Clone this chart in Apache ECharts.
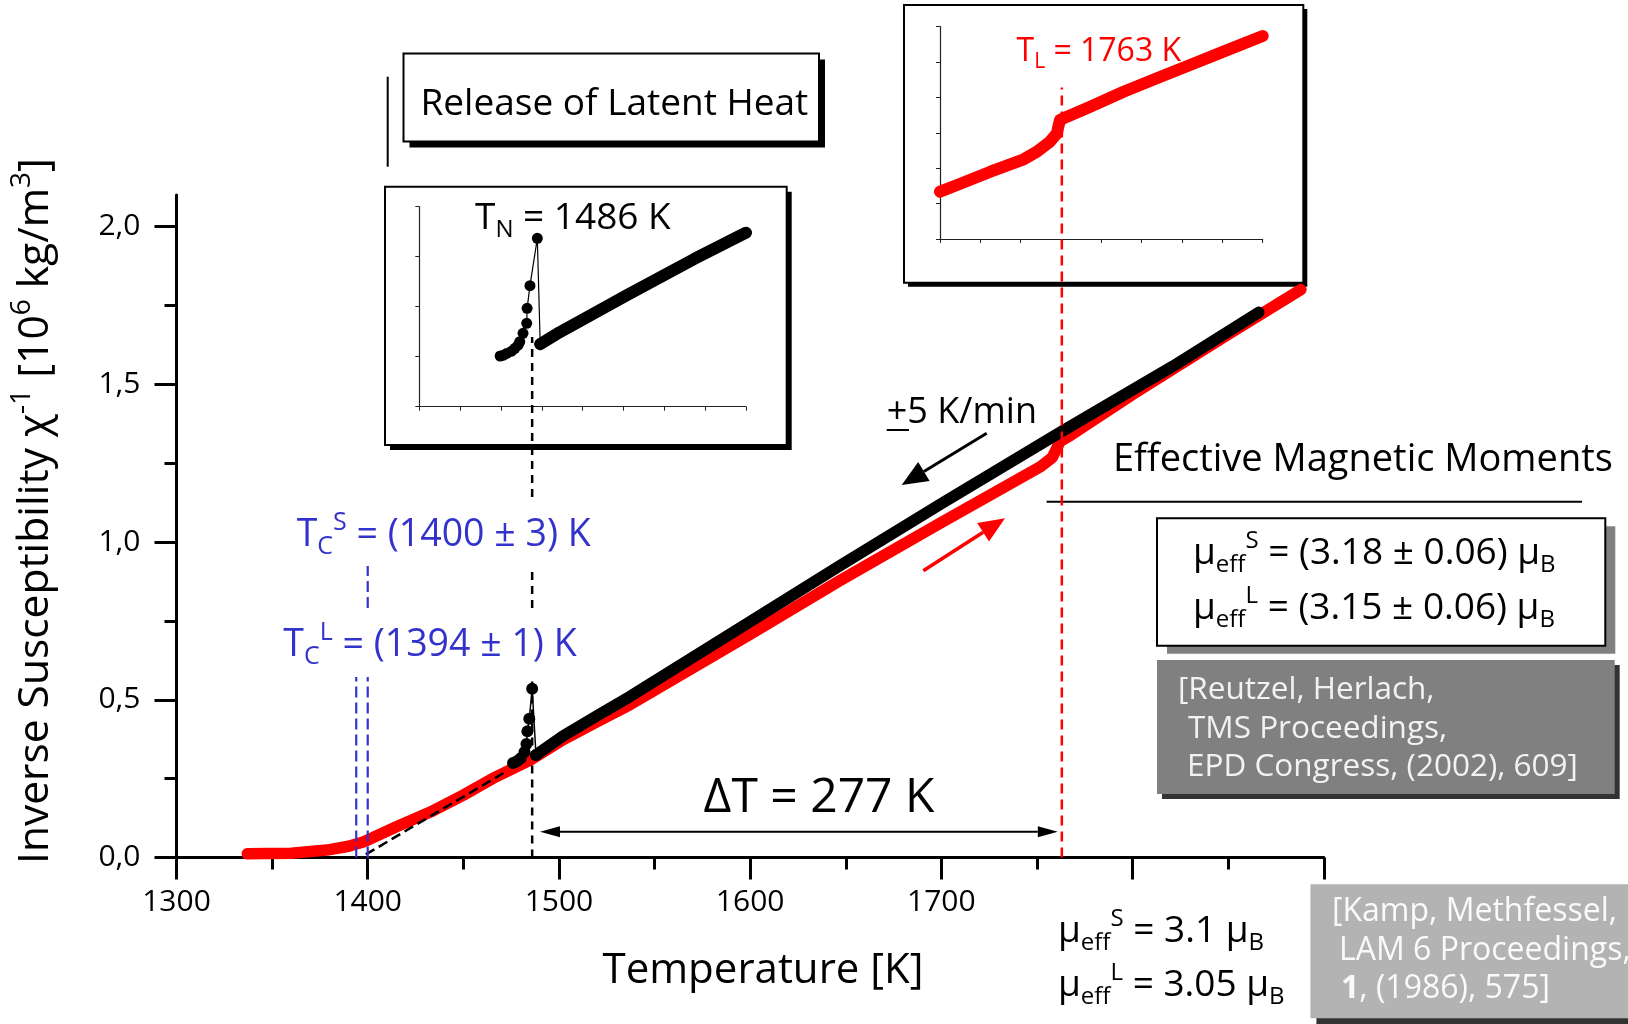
<!DOCTYPE html>
<html>
<head>
<meta charset="utf-8">
<script src="https://cdn.jsdelivr.net/npm/echarts@6/dist/echarts.min.js"></script>
<style>
html,body{margin:0;padding:0;background:#fff;}
#chart{width:1628px;height:1024px;}
</style>
</head>
<body>
<div id="chart"></div>
<script>
// ---------------- DATA ----------------
// Main plot: temperature [K] vs inverse susceptibility [10^6 kg/m^3]
const heatingRed = [
  [1337,0.012],[1360,0.014],[1380,0.025],[1390,0.036],[1398,0.050],[1415,0.098],
  [1433,0.145],[1450,0.198],[1467,0.256],[1485,0.309],[1502,0.373],[1520,0.431],
  [1537,0.484],[1600,0.708],[1647,0.878],[1700,1.062],[1752,1.239],[1758,1.268],
  [1762,1.318],[1768,1.340],[1800,1.468],[1850,1.658],[1888,1.800]
];
const coolingBlack = [
  [1488,0.325],[1502,0.385],[1520,0.450],[1537,0.510],[1600,0.748],[1647,0.925],
  [1700,1.122],[1762,1.347],[1821,1.557],[1866,1.728]
];
// cooling data points around the recalescence peak (path order)
const coolingPeak = [
  [1476,0.300],[1478,0.305],[1480,0.315],[1482,0.335],[1483,0.360],[1483.5,0.400],
  [1484.5,0.440],[1486,0.535],[1488,0.325]
];
// dashed extrapolation of the cooling curve
const curieWeissFit = [[1399,0.010],[1471,0.268]];

// Characteristic temperatures
const T_N = 1486, T_L = 1763, T_C_S = 1400, T_C_L = 1394;

// Inset "T_N" (arbitrary inset units)
const insetN_peak = [
  [1449,0.507],[1453,0.515],[1457,0.533],[1463,0.555],[1467,0.584],[1471,0.615],
  [1473,0.650],[1477,0.734],[1481.5,0.834],[1482,0.984],[1485.5,1.210],[1494.5,1.684],[1498,0.630]
];
const insetN_line = [[1498,0.625],[1522,0.745],[1604,1.115],[1686,1.475],[1750,1.740]];

// Inset "T_L" (arbitrary inset units)
const insetL_red = [
  [1640,1.337],[1657,1.526],[1690,1.902],[1723,2.253],[1736,2.467],[1749,2.750],
  [1756,2.988],[1757,3.137],[1759,3.363],[1766,3.457],[1789,3.739],[1822,4.163],
  [1855,4.542],[1888,4.918],[1921,5.294],[1960,5.738]
];

// Tick labels
const xTickLabels = [1300,1400,1500,1600,1700];
const yTickValues = [0,0.5,1.0,1.5,2.0];
const yMinorTickValues = [0.25,0.75,1.25,1.75];

// ---------------- CHART ----------------
const F = "'Open Sans', 'Noto Sans', sans-serif";
const chart = echarts.init(document.getElementById('chart'), null, {renderer:'canvas'});

function rich(size, color){
  const s = Math.round(size*0.66);
  const lh = Math.round(size*1.3);
  return {
    n:{fontSize:size,fontFamily:F,fill:color,color:color,lineHeight:lh},
    b:{fontSize:size,fontFamily:F,fill:color,color:color,lineHeight:lh,fontWeight:'bold'},
    sub:{fontSize:s,fontFamily:F,fill:color,color:color,lineHeight:s,verticalAlign:'bottom'},
    sup:{fontSize:s,fontFamily:F,fill:color,color:color,lineHeight:s,verticalAlign:'top'}
  };
}
function T(x,y,text,size,color,align,extra){
  return Object.assign({
    type:'text', x:x, y:y, z:100, silent:true,
    style:{text:text, rich:rich(size,color), fontSize:size, fontFamily:F, fill:color,
           align:align||'left', verticalAlign:'middle'}
  }, extra||{});
}
function arrow(x1,y1,x2,y2,color,w,hl,hw,both){
  const dx=x2-x1, dy=y2-y1, L=Math.hypot(dx,dy), ux=dx/L, uy=dy/L, px=-uy, py=ux;
  const els=[];
  const bx=x2-ux*hl, by=y2-uy*hl;
  let sx=x1, sy=y1;
  if(both){
    sx=x1+ux*hl; sy=y1+uy*hl;
    els.push({type:'polygon',z:50,silent:true,shape:{points:[[x1,y1],[sx+px*hw,sy+py*hw],[sx-px*hw,sy-py*hw]]},style:{fill:color}});
  }
  els.push({type:'line',z:50,silent:true,shape:{x1:sx,y1:sy,x2:bx,y2:by},style:{stroke:color,lineWidth:w}});
  els.push({type:'polygon',z:50,silent:true,shape:{points:[[x2,y2],[bx+px*hw,by+py*hw],[bx-px*hw,by-py*hw]]},style:{fill:color}});
  return els;
}
function rect(x,y,w,h,fill,stroke,z){
  return {type:'rect',z:z,silent:true,shape:{x:x,y:y,width:w,height:h},
          style:{fill:fill,stroke:stroke||null,lineWidth:stroke?2:0}};
}

const insetAxisLine = {onZero:false, lineStyle:{color:'#222',width:1.2}};
const insetTick = {show:true, length:4, lineStyle:{color:'#222',width:1}};

const graphics = [
  // Release of Latent Heat box
  rect(409.5,59.5,415.5,88,'#000',null,-2),
  rect(403.5,53.5,415.5,88,'#fff','#000',-1),
  {type:'line',z:-1,silent:true,shape:{x1:387.7,y1:76.7,x2:387.7,y2:166.7},style:{stroke:'#000',lineWidth:2}},
  // inset T_N box
  rect(390,191.7,401.7,258.3,'#000',null,-2),
  rect(385,186.7,401.7,258.3,'#fff','#000',-1),
  // inset T_L box
  rect(908,9,399.3,277.7,'#000',null,-2),
  rect(904,5,399.3,277.7,'#fff','#000',-1),
  // rule under "Effective Magnetic Moments"
  {type:'line',z:-1,silent:true,shape:{x1:1046.6,y1:501.7,x2:1582,y2:501.7},style:{stroke:'#000',lineWidth:2}},
  // mu box
  rect(1167,526.3,448.3,127.4,'#808080',null,-2),
  rect(1157,518.3,448.3,127.4,'#fff','#000',-1),
  // reference box 1
  rect(1162,665,457.7,134,'#333',null,-2),
  rect(1157,660,457.7,134,'#808080',null,-1),
  // reference box 2
  rect(1316.4,890.3,400,134,'#333',null,-2),
  rect(1310.4,884.3,400,134,'#b3b3b3',null,-1),
  // underline of "+" (±)
  {type:'line',z:100,silent:true,shape:{x1:886.7,y1:430,x2:909,y2:430},style:{stroke:'#000',lineWidth:2}},

  // texts
  T(420.5,104,'{n|Release of Latent Heat}',37,'#000'),
  T(475,218,'{n|T}{sub|N}{n| = 1486 K}',37,'#000'),
  T(1016.5,52,'{n|T}{sub|L}{n| = 1763 K}',32,'#ff0000'),
  T(296.7,535,'{n|T}{sub|C}{sup|S}{n| = (1400 ± 3) K}',37.5,'#3333cc'),
  T(283.3,645,'{n|T}{sub|C}{sup|L}{n| = (1394 ± 1) K}',37.5,'#3333cc'),
  T(886.7,413,'{n|+5 K/min}',36,'#000'),
  T(1113,460,'{n|Effective Magnetic Moments}',38,'#000'),
  T(1193,553,'{n|μ}{sub|eff}{sup|S}{n| = (3.18 ± 0.06) μ}{sub|B}',37,'#000'),
  T(1193,608,'{n|μ}{sub|eff}{sup|L}{n| = (3.15 ± 0.06) μ}{sub|B}',37,'#000'),
  T(1178,690,'{n|[Reutzel, Herlach,}',31.5,'#f2f2f2'),
  T(1188,729,'{n|TMS Proceedings,}',31.5,'#f2f2f2'),
  T(1187,767,'{n|EPD Congress, (2002), 609]}',31.5,'#f2f2f2'),
  T(1332,912,'{n|[Kamp, Methfessel,}',32,'#fafafa'),
  T(1339,951,'{n|LAM 6 Proceedings,}',32,'#fafafa'),
  T(1341,989,'{b|1}{n|, (1986), 575]}',32,'#fafafa'),
  T(1058,931,'{n|μ}{sub|eff}{sup|S}{n| = 3.1 μ}{sub|B}',37,'#000'),
  T(1058,985,'{n|μ}{sub|eff}{sup|L}{n| = 3.05 μ}{sub|B}',37,'#000'),
  T(819,798,'{n|ΔT = 277 K}',48,'#000','center'),
  T(763,971,'{n|Temperature [K]}',42,'#000','center'),
  T(36,511,'{n|Inverse Susceptibility χ}{sup|-1}{n| [10}{sup|6}{n| kg/m}{sup|3}{n|]}',42.5,'#000','center',{rotation:Math.PI/2})
].concat(
  arrow(986.7,433.3,901.7,485,'#000',3,26,11),
  arrow(923.3,570.7,1005,518.3,'#ff0000',3.5,26,11),
  arrow(540,831.7,1057.8,831.7,'#000',2,20,5.5,true)
);

// marker lines (annotation extents in axis units)
const tnMarker = [[T_N,0],[T_N,0.572],[T_N,'-'],[T_N,0.791],[T_N,0.921],[T_N,'-'],[T_N,1.143],[T_N,1.65]];
const tlMarker = [[T_L,0],[T_L,2.44]];
const tcsMarker = [[T_C_S,0],[T_C_S,0.572],[T_C_S,'-'],[T_C_S,0.791],[T_C_S,0.924]];
const tclMarker = [[T_C_L,0],[T_C_L,0.572]];

function lineSeries(data, xi, yi, color, width, extra){
  return Object.assign({
    type:'line', xAxisIndex:xi, yAxisIndex:yi, data:data, symbol:'none', silent:true,
    connectNulls:false, lineStyle:{color:color,width:width,cap:'round',join:'round'}
  }, extra||{});
}

const option = {
  animation:false,
  backgroundColor:'#ffffff',
  grid:[
    {left:176.5, top:194.9, width:1147.3, height:662.7},
    {left:419.3, top:206.7, width:326.7, height:200},
    {left:940, top:26.7, width:322.7, height:212.3}
  ],
  xAxis:[
    {gridIndex:0, type:'value', min:1300, max:1900, interval:100, position:'bottom',
     axisLine:{onZero:false, lineStyle:{color:'#000',width:3}},
     axisTick:{show:true, length:22, lineStyle:{color:'#000',width:3}},
     minorTick:{show:true, splitNumber:2, length:12, lineStyle:{color:'#000',width:3}},
     axisLabel:{formatter:function(v){return xTickLabels.indexOf(v)>=0?String(v):'';},
                fontSize:30, fontFamily:F, color:'#000', margin:30},
     splitLine:{show:false}, minorSplitLine:{show:false}},
    {gridIndex:1, type:'value', min:1350, max:1750, interval:50, position:'bottom',
     axisLine:insetAxisLine, axisTick:insetTick, axisLabel:{show:false}, splitLine:{show:false}},
    {gridIndex:2, type:'value', min:1640, max:1960, interval:40, position:'bottom',
     axisLine:insetAxisLine, axisTick:insetTick, axisLabel:{show:false}, splitLine:{show:false}}
  ],
  yAxis:[
    {gridIndex:0, type:'value', min:0, max:2.1, position:'left',
     axisLine:{show:true, onZero:false, lineStyle:{color:'#000',width:3}},
     axisTick:{show:true, length:22, lineStyle:{color:'#000',width:3}, customValues:yTickValues},
     axisLabel:{customValues:yTickValues, formatter:function(v){return Number(v).toFixed(1).replace('.',',');},
                fontSize:30, fontFamily:F, color:'#000', margin:36},
     splitLine:{show:false}},
    {gridIndex:0, type:'value', min:0, max:2.1, position:'left', offset:0,
     axisLine:{show:false, onZero:false},
     axisTick:{show:true, length:12, lineStyle:{color:'#000',width:3}, customValues:yMinorTickValues},
     axisLabel:{show:false}, splitLine:{show:false}},
    {gridIndex:1, type:'value', min:0, max:2, interval:0.5, position:'left',
     axisLine:Object.assign({show:true},insetAxisLine), axisTick:insetTick, axisLabel:{show:false}, splitLine:{show:false}},
    {gridIndex:2, type:'value', min:0, max:6, interval:1, position:'left',
     axisLine:Object.assign({show:true},insetAxisLine), axisTick:insetTick, axisLabel:{show:false}, splitLine:{show:false}}
  ],
  series:[
    lineSeries(heatingRed,0,0,'#ff0000',11.5,{name:'heating',z:3}),
    lineSeries(coolingBlack,0,0,'#000000',11.5,{name:'cooling',z:4}),
    lineSeries(coolingPeak,0,0,'#000000',1.5,{name:'cooling peak',z:5,symbol:'circle',symbolSize:12,showSymbol:true,itemStyle:{color:'#000'}}),
    lineSeries(curieWeissFit,0,0,'#000000',2.5,{name:'fit',z:5,lineStyle:{color:'#000',width:2.5,type:[10,5]}}),
    lineSeries(tnMarker,0,0,'#000000',2.5,{name:'TN',z:6,lineStyle:{color:'#000',width:2.5,type:[8,6]}}),
    lineSeries(tlMarker,0,0,'#ff0000',2.5,{name:'TL',z:6,clip:false,lineStyle:{color:'#ff0000',width:2.5,type:[10,6]}}),
    lineSeries(tcsMarker,0,0,'#3333cc',2.2,{name:'TCS',z:6,lineStyle:{color:'#3333cc',width:2.2,type:[11,5]}}),
    lineSeries(tclMarker,0,0,'#3333cc',2.2,{name:'TCL',z:6,lineStyle:{color:'#3333cc',width:2.2,type:[11,5]}}),
    lineSeries(insetN_line,1,2,'#000000',12,{name:'insetN line',z:4}),
    lineSeries(insetN_peak,1,2,'#000000',1.2,{name:'insetN peak',z:5,symbol:'circle',symbolSize:11,showSymbol:true,itemStyle:{color:'#000'}}),
    lineSeries(insetL_red,2,3,'#ff0000',12,{name:'insetL',z:4})
  ],
  graphic:{elements:graphics}
};
chart.setOption(option);
</script>
</body>
</html>
